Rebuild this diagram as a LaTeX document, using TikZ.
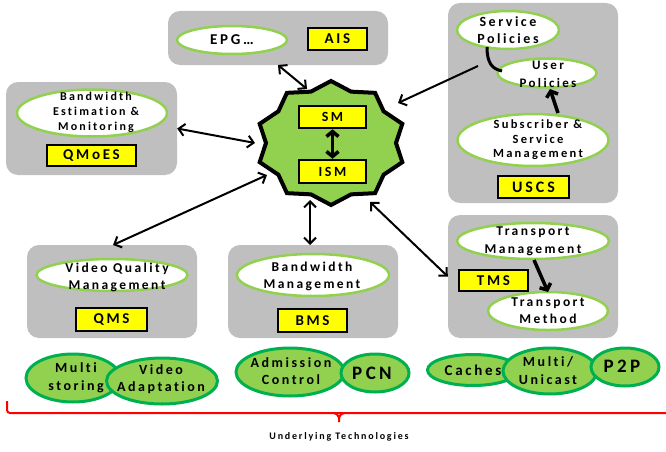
\documentclass[tikz,border=0pt]{standalone}
\usepackage{fontspec}
\setmainfont{Carlito}[LetterSpace=18,Ligatures={NoCommon}]
\usetikzlibrary{arrows.meta,shapes.geometric}
\definecolor{boxgray}{HTML}{BFBFBF}
\definecolor{lgreen}{HTML}{92D050}
\definecolor{dgreen}{HTML}{00B050}
\definecolor{ylw}{HTML}{FFFF00}
\definecolor{brred}{HTML}{FF0000}
\newcommand\fsz[2]{\fontsize{#1}{#2}\selectfont\bfseries}
\begin{document}
\begin{tikzpicture}[x=1pt,y=-1pt,
  gbox/.style={fill=boxgray, rounded corners=12pt, inner sep=0pt, draw=none},
  wov/.style={ellipse, draw=lgreen, fill=white, line width=2.5pt, inner sep=0pt},
  gov/.style={ellipse, draw=dgreen, fill=lgreen, line width=3pt, inner sep=0pt},
  ybox/.style={rectangle, draw=black, fill=ylw, line width=2.5pt, inner sep=0pt},
  lbl/.style={align=center, inner sep=0pt},
  dbl/.style={{Straight Barb[length=6pt,width=12pt]}-{Straight Barb[length=6pt,width=12pt]}, line width=2pt},
  sgl/.style={-{Straight Barb[length=6pt,width=12pt]}, line width=2pt},
  thk/.style={-{Straight Barb[length=5pt,width=12pt]}, line width=3.5pt},
  thkd/.style={{Straight Barb[length=5pt,width=12pt]}-{Straight Barb[length=5pt,width=12pt]}, line width=3.5pt},
  brace/.style={draw=brred, line width=2pt},
  hubstar/.style={draw=black, fill=lgreen, line width=4pt, line join=miter}
]
\useasboundingbox (0,0) rectangle (666,452);

% gray groups
\node[gbox, minimum width=220pt, minimum height=54pt] (aisgrp) at (278,38) {};
\node[gbox, minimum width=171pt, minimum height=93pt] (qmoesgrp) at (91.5,128.5) {};
\node[gbox, minimum width=170pt, minimum height=200pt] (uscsgrp) at (533,103) {};
\node[gbox, minimum width=170pt, minimum height=93pt] (qmsgrp) at (112,291.5) {};
\node[gbox, minimum width=170pt, minimum height=93pt] (bmsgrp) at (313,291.5) {};
\node[gbox, minimum width=170pt, minimum height=123pt] (tmsgrp) at (533,276.5) {};

% white ellipses
\node[wov, minimum width=110pt, minimum height=28pt] (epg) at (232,40) {};
\node[wov, minimum width=150pt, minimum height=47pt] (bwe) at (92,113) {};
\node[wov, minimum width=102pt, minimum height=38pt] (svp) at (508,30) {};
\node[wov, minimum width=99pt, minimum height=29pt] (usp) at (547,73) {};
\node[wov, minimum width=151pt, minimum height=52pt] (sub) at (533,140) {};
\node[wov, minimum width=151pt, minimum height=32pt] (vqm) at (112,275) {};
\node[wov, minimum width=152pt, minimum height=42pt] (bwm) at (313,275) {};
\node[wov, minimum width=152pt, minimum height=36pt] (trm) at (533,241) {};
\node[wov, minimum width=120pt, minimum height=38pt] (trh) at (548,311) {};

% labels in white ellipses
\node[lbl, font=\fsz{15}{18}] (tepg) at (232,40) {EPG…};
\node[lbl, font=\fsz{12}{15}] (tbwe) at (96,112) {Bandwidth\\Estimation \&\\Monitoring};
\node[lbl, font=\fsz{14}{17}] (tsvp) at (508,30) {Service\\Policies};
\node[lbl, font=\fsz{13}{18}] (tusp) at (548,74) {User\\Policies};
\node[lbl, font=\fsz{12.5}{14.5}] (tsub) at (538,140) {Subscriber \&\\Service\\Management};
\node[lbl, font=\fsz{13.5}{17}] (tvqm) at (117,277) {Video Quality\\Management};
\node[lbl, font=\fsz{13.5}{17}] (tbwm) at (312,276) {Bandwidth\\Management};
\node[lbl, font=\fsz{13.5}{18}] (ttrm) at (533,241) {Transport\\Management};
\node[lbl, font=\fsz{13.5}{17}] (ttrh) at (548,311) {Transport\\Method};

% yellow boxes
\node[ybox, minimum width=59pt, minimum height=22pt, font=\fsz{15}{18}] (ais) at (337.5,39) {AIS};
\node[ybox, minimum width=89pt, minimum height=21pt, font=\fsz{15}{18}] (qmoes) at (91.5,155.5) {QMoES};
\node[ybox, minimum width=71pt, minimum height=22pt, font=\fsz{16}{19}] (uscs) at (533.5,187) {USCS};
\node[ybox, minimum width=71pt, minimum height=23pt, font=\fsz{15}{18}] (qms) at (111.5,319.5) {QMS};
\node[ybox, minimum width=69pt, minimum height=23pt, font=\fsz{15}{18}] (bms) at (312.5,320.5) {BMS};
\node[ybox, minimum width=69pt, minimum height=21pt, font=\fsz{15}{18}] (tms) at (493.5,280.5) {TMS};

% central star
\draw[hubstar, shift={(331,143)}] (90:75 and 62)
  \foreach \a in {0,36,...,324}{ -- ({108+\a}:65 and 54) -- ({126+\a}:75 and 62) } -- cycle;
\node[ybox, minimum width=67pt, minimum height=22pt, font=\fsz{14}{17}] (sm) at (332.5,117) {SM};
\node[ybox, minimum width=67pt, minimum height=23pt, font=\fsz{14}{17}] (ism) at (332.5,171.5) {ISM};
\draw[thkd] (sm.south) -- (ism.north);

% connection points on the star
\coordinate (hepg) at (307,89);
\coordinate (hqmoes) at (255,143);
\coordinate (hqms) at (267,175);
\coordinate (hbms) at (310,200);
\coordinate (htms) at (370,202);
\coordinate (huscs) at (398,103);
\coordinate (uscsstart) at (478,66);
\coordinate (bmsend) at (310,245);

\draw[dbl] (278,65) -- (hepg);
\draw[dbl] (qmoesgrp.east) -- (hqmoes);
\draw[dbl] (113,245) -- (hqms);
\draw[dbl] (bmsend) -- (hbms);
\draw[dbl] (tmsgrp.west) -- (htms);
\draw[sgl] (uscsstart) -- (huscs);

% arrows inside groups
\draw[line width=3pt] (487,47) .. controls (487,63) and (492,69) .. (502,71);
\draw[thk] (558,113) -- (550,89);
\draw[thk] (534,260) -- (548,292);

% underlying technologies
\node[gov, minimum width=94pt, minimum height=48pt] (mst) at (73,378) {};
\node[gov, minimum width=111pt, minimum height=46pt] (vad) at (162,381) {};
\node[gov, minimum width=108pt, minimum height=48pt] (adm) at (290,372) {};
\node[gov, minimum width=68pt, minimum height=38pt] (pcn) at (375,373) {};
\node[gov, minimum width=91pt, minimum height=31pt] (cac) at (473,370) {};
\node[gov, minimum width=94pt, minimum height=46pt] (muc) at (550,371) {};
\node[gov, minimum width=68pt, minimum height=38pt] (p2p) at (625,367) {};

\node[lbl, font=\fsz{14}{17.5}] (tmst) at (76,378) {Multi\\storing};
\node[lbl, font=\fsz{14}{17.5}] (tvad) at (161,379) {Video\\Adaptation};
\node[lbl, font=\fsz{14}{17.5}] (tadm) at (291,371) {Admission\\Control};
\node[lbl, font=\fsz{19}{22}] (tpcn) at (372,373) {PCN};
\node[lbl, font=\fsz{15}{18}] (tcac) at (473,370) {Caches};
\node[lbl, font=\fsz{14}{18}] (tmuc) at (548,371) {Multi/\\Unicast};
\node[lbl, font=\fsz{19}{22}] (tp2p) at (622,366) {P2P};

% brace
\draw[brace, rounded corners=3pt] (7,401) -- (7,413) -- (666,413);
\draw[brace] (333,413) to[out=0,in=90] (339,419) -- (339,422);
\draw[brace] (345,413) to[out=180,in=90] (339,419);
\node[lbl, font=\fsz{10}{12}] (tund) at (339,437) {Underlying Technologies};
\end{tikzpicture}
\end{document}
